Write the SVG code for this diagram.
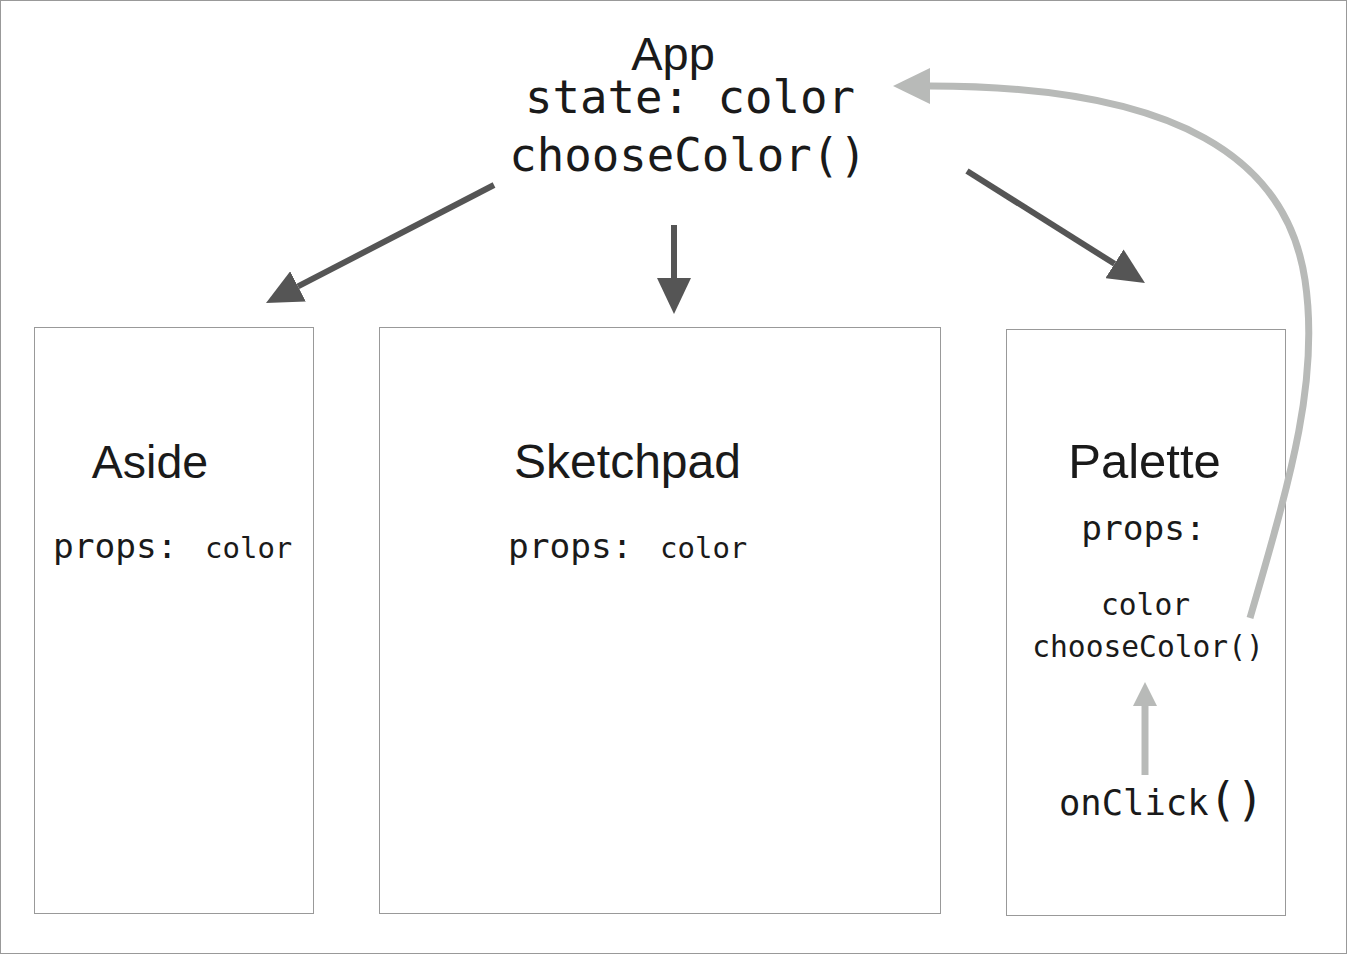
<svg xmlns="http://www.w3.org/2000/svg" width="1347" height="954" viewBox="0 0 1347 954">
<style>
.box{fill:#fff;stroke:#999;stroke-width:1}
.sans{font-family:"Liberation Sans",Arial,sans-serif;fill:#1a1a1a}
.mono{font-family:"DejaVu Sans Mono","Liberation Mono",monospace;fill:#1a1a1a}
.dark{stroke:#555;stroke-width:6;fill:none}
.light{stroke:#b8bab8;stroke-width:7;fill:none}
</style>
<defs>
<marker id="ad" markerUnits="userSpaceOnUse" viewBox="0 0 36 34" refX="0" refY="17" markerWidth="36" markerHeight="34" orient="auto"><path d="M0,0 L36,17 L0,34 z" fill="#555"/></marker>
<marker id="al" markerUnits="userSpaceOnUse" viewBox="0 0 37 36" refX="0" refY="18" markerWidth="37" markerHeight="36" orient="auto"><path d="M0,0 L37,18 L0,36 z" fill="#b8bab8"/></marker>
<marker id="as" markerUnits="userSpaceOnUse" viewBox="0 0 24 24" refX="0" refY="12" markerWidth="24" markerHeight="24" orient="auto"><path d="M0,0 L24,12 L0,24 z" fill="#b8bab8"/></marker>
</defs>
<rect x="0.5" y="0.5" width="1346" height="953" fill="#fff" stroke="#999"/>
<g id="app">
<text class="sans" x="673" y="70" font-size="47" text-anchor="middle">App</text>
<text class="mono" x="690" y="113" font-size="45.7" text-anchor="middle">state: color</text>
<text class="mono" x="688" y="171" font-size="45.7" text-anchor="middle">chooseColor()</text>
</g>
<g id="aside">
<rect class="box" x="34.5" y="327.5" width="279" height="586"/>
<text class="sans" x="150" y="478" font-size="46.5" text-anchor="middle">Aside</text>
<text class="mono" x="53" y="558" font-size="34.5">props:</text>
<text class="mono" x="205" y="558" font-size="29">color</text>
</g>
<g id="sketchpad">
<rect class="box" x="379.5" y="327.5" width="561" height="586"/>
<text class="sans" x="627.5" y="478" font-size="48" text-anchor="middle">Sketchpad</text>
<text class="mono" x="508" y="558" font-size="34.5">props:</text>
<text class="mono" x="660" y="558" font-size="29">color</text>
</g>
<g id="palette">
<rect class="box" x="1006.5" y="329.5" width="279" height="586"/>
<text class="sans" x="1144.5" y="478" font-size="49" text-anchor="middle">Palette</text>
<text class="mono" x="1143.5" y="540" font-size="34.5" text-anchor="middle">props:</text>
<text class="mono" x="1145.5" y="615" font-size="29.6" text-anchor="middle">color</text>
<text class="mono" x="1148" y="657" font-size="29.6" text-anchor="middle">chooseColor()</text>
<text class="mono" x="1059" y="815" font-size="35.5">onClick<tspan font-size="46">()</tspan></text>
</g>
<g id="connectors">
<line class="dark" x1="494" y1="185" x2="298" y2="286.4" marker-end="url(#ad)"/>
<line class="dark" x1="674" y1="225" x2="674" y2="278" marker-end="url(#ad)"/>
<line class="dark" x1="967" y1="171" x2="1114.5" y2="263.8" marker-end="url(#ad)"/>
<path class="light" d="M1250,618 C1290,480 1320,380 1305,280 C1287,160 1180,86 930,86" marker-end="url(#al)"/>
<line class="light" x1="1145" y1="775" x2="1145" y2="706" stroke-width="4" marker-end="url(#as)"/>
</g>
</svg>
